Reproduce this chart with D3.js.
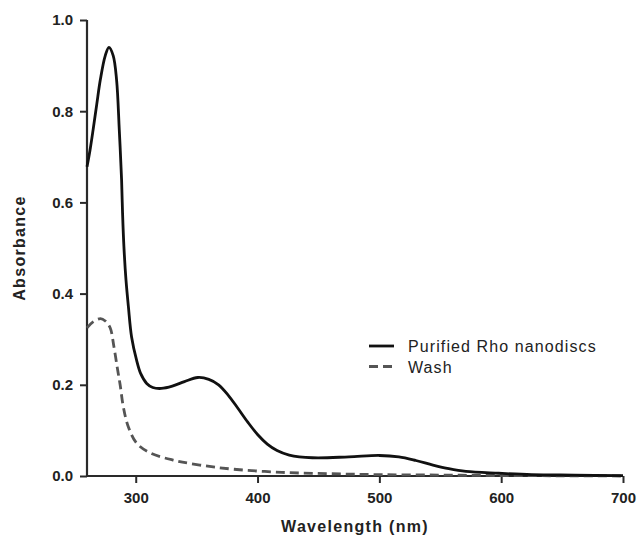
<!DOCTYPE html>
<html>
<head>
<meta charset="utf-8">
<script src="https://cdn.jsdelivr.net/npm/d3@7"></script>
<style>
  html, body { margin: 0; padding: 0; background: #fff; }
  svg { display: block; }
  text { font-family: "Liberation Sans", Arial, Helvetica, sans-serif; }
</style>
</head>
<body>
<div id="chart"></div>
<script>
// ---- Data ----
const seriesNames = ["Purified Rho nanodiscs", "Wash"];

const rhoWavelength = [260, 262.5, 265, 268, 271, 275, 278, 281.5, 284.3, 286.5, 288.4, 289.2, 290.3, 292, 294, 296.6, 300.7, 304, 309, 314, 321, 330, 340, 351, 360, 368, 376, 384, 392, 400, 408, 416, 426, 445, 475, 500, 516, 530, 544, 557, 571, 598, 625, 660, 700];
const rhoAbsorbance = [0.678, 0.715, 0.759, 0.815, 0.87, 0.922, 0.94, 0.922, 0.868, 0.759, 0.649, 0.576, 0.503, 0.43, 0.371, 0.305, 0.254, 0.225, 0.203, 0.194, 0.192, 0.197, 0.207, 0.216, 0.212, 0.2, 0.177, 0.148, 0.118, 0.091, 0.07, 0.056, 0.046, 0.04, 0.042, 0.045, 0.042, 0.034, 0.024, 0.016, 0.01, 0.006, 0.003, 0.002, 0.001];

const washWavelength = [260, 265, 271, 275, 279, 282, 285, 287.2, 289.8, 293.9, 300.7, 311.6, 330.5, 352.6, 379.7, 420, 460, 500, 550, 600, 650, 700];
const washAbsorbance = [0.325, 0.338, 0.345, 0.34, 0.325, 0.285, 0.235, 0.2, 0.152, 0.108, 0.072, 0.051, 0.035, 0.024, 0.015, 0.008, 0.005, 0.003, 0.002, 0.001, 0.0005, 0];

const xTicks = [300, 400, 500, 600, 700];
const yTicks = [0, 0.2, 0.4, 0.6, 0.8, 1.0];
const xDomain = [260, 700];
const yDomain = [0, 1.0];
const xTitle = "Wavelength (nm)";
const yTitle = "Absorbance";

// ---- Layout ----
const W = 638, H = 537;
const mLeft = 87, mRight = 623, mTop = 20, mBottom = 476;

const svg = d3.select("#chart").append("svg").attr("width", W).attr("height", H);

const x = d3.scaleLinear().domain(xDomain).range([mLeft, mRight]);
const y = d3.scaleLinear().domain(yDomain).range([mBottom, mTop]);

const axisColor = "#2a2a2a";

// X axis
const gx = svg.append("g").attr("transform", `translate(0,${mBottom})`)
  .call(d3.axisBottom(x).tickValues(xTicks).tickSize(7).tickSizeOuter(0).tickPadding(9).tickFormat(d3.format("d")));
gx.select(".domain").attr("stroke", axisColor).attr("stroke-width", 2.2)
  .attr("d", `M${mLeft},0H${mRight}`);
gx.selectAll(".tick line").attr("stroke", axisColor).attr("stroke-width", 2);
gx.selectAll(".tick text").attr("font-size", 15).attr("font-weight", "bold").attr("fill", "#222");

// Y axis
const gy = svg.append("g").attr("transform", `translate(${mLeft},0)`)
  .call(d3.axisLeft(y).tickValues(yTicks).tickSize(7).tickSizeOuter(0).tickPadding(7).tickFormat(d3.format(".1f")));
gy.select(".domain").attr("stroke", axisColor).attr("stroke-width", 2.2)
  .attr("d", `M0,${mBottom}V${mTop}`);
gy.selectAll(".tick line").attr("stroke", axisColor).attr("stroke-width", 2);
gy.selectAll(".tick text").attr("font-size", 15).attr("font-weight", "bold").attr("fill", "#222");

// Titles
svg.append("text")
  .attr("x", (mLeft + mRight) / 2).attr("y", 532)
  .attr("text-anchor", "middle")
  .attr("font-size", 16).attr("font-weight", "bold")
  .attr("letter-spacing", "1.3px").attr("fill", "#222")
  .text(xTitle);

svg.append("text")
  .attr("transform", `translate(25,${(mTop + mBottom) / 2}) rotate(-90)`)
  .attr("text-anchor", "middle")
  .attr("font-size", 16).attr("font-weight", "bold")
  .attr("letter-spacing", "1.3px").attr("fill", "#222")
  .text(yTitle);

// Lines
const line = d3.line().x(d => x(d[0])).y(d => y(d[1])).curve(d3.curveCatmullRom.alpha(0.5));

const rho = rhoWavelength.map((w, i) => [w, rhoAbsorbance[i]]);
const wash = washWavelength.map((w, i) => [w, washAbsorbance[i]]);

svg.append("path").datum(wash)
  .attr("d", line).attr("fill", "none")
  .attr("stroke", "#555").attr("stroke-width", 2.8)
  .attr("stroke-dasharray", "9,5");

svg.append("path").datum(rho)
  .attr("d", line).attr("fill", "none")
  .attr("stroke", "#111").attr("stroke-width", 2.8)
  .attr("stroke-linejoin", "round");

// Legend
const legend = svg.append("g");
const legItems = [
  { name: seriesNames[0], y: 346, color: "#111", dash: null },
  { name: seriesNames[1], y: 366.5, color: "#555", dash: "9,5" }
];
legItems.forEach(it => {
  legend.append("line")
    .attr("x1", 369).attr("x2", 394).attr("y1", it.y).attr("y2", it.y)
    .attr("stroke", it.color).attr("stroke-width", 2.8)
    .attr("stroke-dasharray", it.dash);
  legend.append("text")
    .attr("x", 408).attr("y", it.y + 6)
    .attr("font-size", 16).attr("letter-spacing", "1.1px").attr("fill", "#222")
    .text(it.name);
});
</script>
</body>
</html>
